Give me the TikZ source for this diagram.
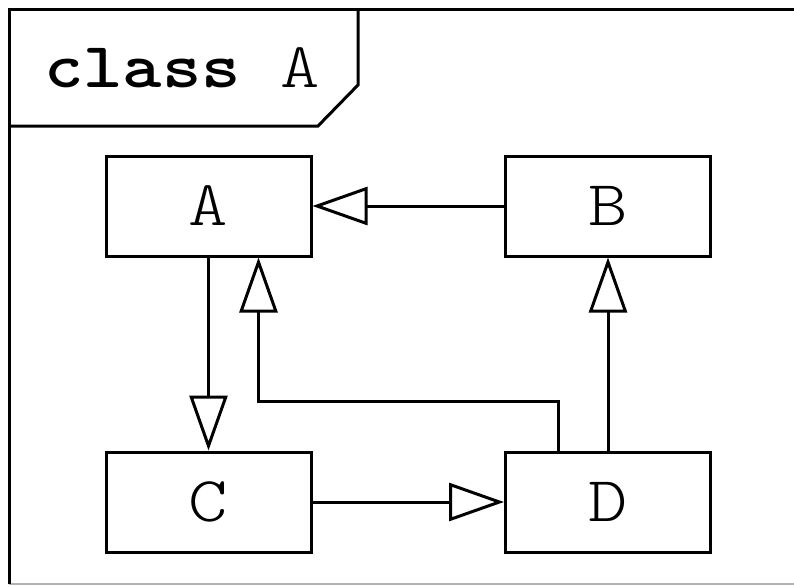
\documentclass[tikz,border=0pt]{standalone}
\usepackage{fontspec}
\newfontfamily\cour{lmmonolt10-regular}[Extension=.otf, BoldFont=lmmonolt10-bold, FakeStretch=1.17]
\usetikzlibrary{arrows.meta}
\tikzset{
  cls/.style={draw, line width=3pt, fill=white, minimum width=205pt, minimum height=100pt,
    inner sep=0pt, font=\cour\fontsize{64}{64}\selectfont},
  inh/.style={line width=3pt, -{Triangle[open, length=55pt, width=38pt, line join=miter]}},
}
\begin{document}
\begin{tikzpicture}[x=1pt, y=-1pt]
\useasboundingbox (0,0) rectangle (794,586);
% frame
\draw[gray!60, line width=1.5pt] (9,584) -- (794,584);
\draw[line width=3pt] (794,10) -- (9,10) -- (9,584);
\draw[line width=3pt] (358,10) -- (358,85) -- (318,126) -- (9,126);
\node[anchor=base west, inner sep=0pt, font=\cour\fontsize{64}{64}\selectfont] (title) at (44,87) {\textbf{class} A};
% classes
\node[cls] (A) at (208.5,206) {A};
\node[cls] (B) at (608,206) {B};
\node[cls] (C) at (208.5,502) {C};
\node[cls] (D) at (608,502) {D};
% connectors
\draw[inh] (B.west) -- (A.east);
\draw[inh] (A.south) -- (C.north);
\draw[inh] (C.east) -- (D.west);
\draw[inh] (D.north) -- (B.south);
\draw[inh] ([xshift=-50pt]D.north) -- ++(0,-49) -| ([xshift=50pt]A.south);
\end{tikzpicture}
\end{document}
